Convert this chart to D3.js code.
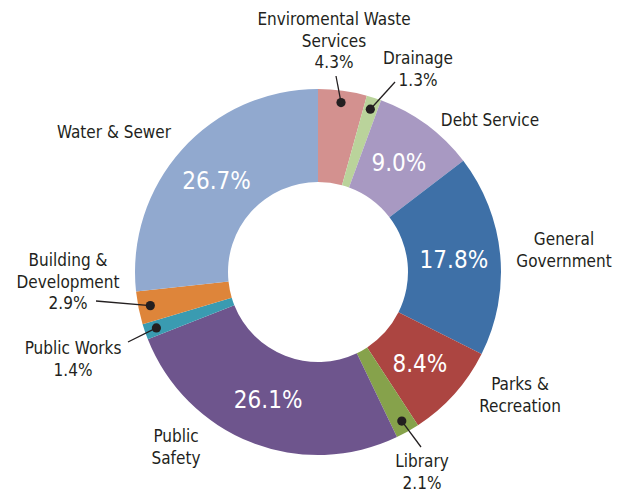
<!DOCTYPE html>
<head>
<meta charset="utf-8">
<script src="https://cdn.jsdelivr.net/npm/d3@7"></script>
<style>
  body { margin: 0; background: #fff; }
  svg { display: block; }
  .lbl { font-family: "DejaVu Sans Condensed", "Liberation Sans Narrow", sans-serif; font-size: 17px; fill: #231f20; }
  .pct { font-family: "DejaVu Sans Condensed", "Liberation Sans Narrow", sans-serif; font-size: 24px; fill: #fff; }
</style>
</head>
<body>
<div id="chart"></div>
<script>
// data, clockwise from 12 o'clock
var categories = ["Enviromental Waste Services", "Drainage", "Debt Service", "General Government",
  "Parks & Recreation", "Library", "Public Safety", "Public Works", "Building & Development", "Water & Sewer"];
var shares = [4.3, 1.3, 9.0, 17.8, 8.4, 2.1, 26.1, 1.4, 2.9, 26.7];
var colors = ["#d3918f", "#bad39b", "#a899c2", "#3e70a7", "#ac4541", "#86a24b", "#6e558d", "#3a9bb1", "#de853a", "#91a9cf"];
// which slices carry their value inside the ring
var inside = [false, false, true, true, true, false, true, false, false, true];

// label layout: text lines, anchor point, leader line end (null = no leader)
var labels = [
  { lines: ["Enviromental Waste", "Services", "4.3%"], x: 334, y: 25, lead: [336, 76] },
  { lines: ["Drainage", "1.3%"], x: 418, y: 64, lead: [395, 82] },
  { lines: ["Debt Service"], x: 490, y: 126, lead: null },
  { lines: ["General", "Government"], x: 564, y: 245, lead: null },
  { lines: ["Parks &", "Recreation"], x: 520, y: 390, lead: null },
  { lines: ["Library", "2.1%"], x: 422, y: 467, lead: [421, 447] },
  { lines: ["Public", "Safety"], x: 176, y: 442, lead: null },
  { lines: ["Public Works", "1.4%"], x: 73, y: 354, lead: [128, 342] },
  { lines: ["Building &", "Development", "2.9%"], x: 68, y: 266, lead: [96, 301] },
  { lines: ["Water & Sewer"], x: 114, y: 138, lead: null }
];

var width = 626, height = 492;
var cx = 318, cy = 272, outerR = 183, innerR = 90, dotR = 171, lineH = 21.5;

var svg = d3.select("#chart").append("svg")
  .attr("width", width)
  .attr("height", height);

var pie = d3.pie().sort(null).value(function(d) { return d; });
var arcs = pie(shares);

var arc = d3.arc().innerRadius(innerR).outerRadius(outerR);
var dotArc = d3.arc().innerRadius(dotR).outerRadius(dotR);

var g = svg.append("g").attr("transform", "translate(" + cx + "," + cy + ")");

g.selectAll("path")
  .data(arcs)
  .enter().append("path")
  .attr("d", arc)
  .attr("fill", function(d, i) { return colors[i]; });

// values inside ring
g.selectAll(".pct")
  .data(arcs.filter(function(d, i) { return inside[i]; }))
  .enter().append("text")
  .attr("class", "pct")
  .attr("text-anchor", "middle")
  .attr("dy", "0.36em")
  .attr("transform", function(d) { return "translate(" + arc.centroid(d) + ")"; })
  .text(function(d) { return d.value.toFixed(1) + "%"; });

// leader lines + dots
arcs.forEach(function(d, i) {
  var L = labels[i];
  if (!L.lead) return;
  var p = dotArc.centroid(d);
  g.append("line")
    .attr("x1", L.lead[0] - cx).attr("y1", L.lead[1] - cy)
    .attr("x2", p[0]).attr("y2", p[1])
    .attr("stroke", "#231f20").attr("stroke-width", 1.3);
  g.append("circle")
    .attr("cx", p[0]).attr("cy", p[1]).attr("r", 4.6)
    .attr("fill", "#231f20");
});

// outside labels
labels.forEach(function(L) {
  var t = svg.append("text")
    .attr("class", "lbl")
    .attr("text-anchor", "middle");
  L.lines.forEach(function(s, k) {
    t.append("tspan").attr("x", L.x).attr("y", L.y + k * lineH).text(s);
  });
});
</script>
</body>
